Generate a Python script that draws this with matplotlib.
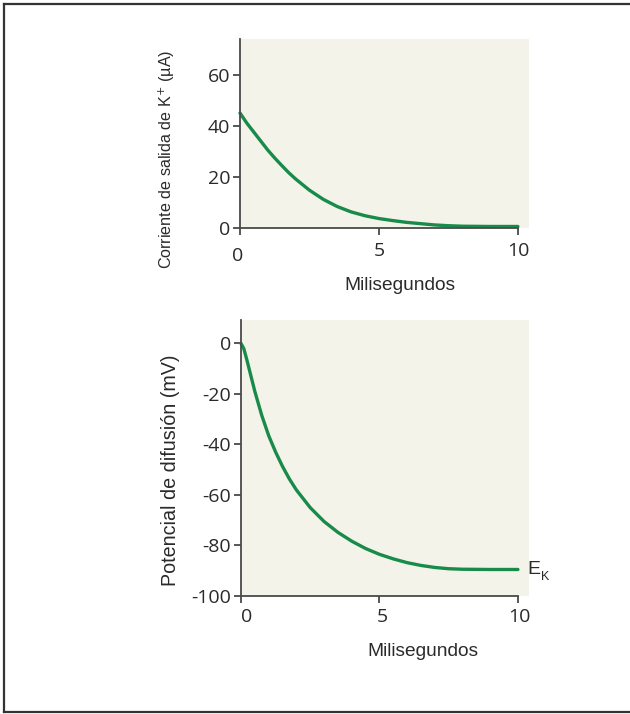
import matplotlib
matplotlib.use("Agg")
import matplotlib.pyplot as plt
from matplotlib.lines import Line2D

# Data
t_top = [0, 0.25, 0.5, 0.75, 1, 1.25, 1.5, 1.75, 2, 2.5, 3, 3.5, 4, 4.5, 5, 5.5, 6,
         6.5, 7, 7.5, 8, 9, 10]
i_top = [45, 41, 37.5, 34, 30.5, 27.4, 24.5, 21.7, 19.2, 14.8, 11.2, 8.4, 6.3, 4.8,
         3.7, 2.9, 2.2, 1.7, 1.2, 0.9, 0.7, 0.6, 0.6]

t_bot = [0, 0.1, 0.2, 0.35, 0.5, 0.75, 1, 1.25, 1.5, 1.75, 2, 2.5, 3, 3.5, 4, 4.5,
         5, 5.5, 6, 6.5, 7, 7.5, 8, 9, 10]
v_bot = [0, -2, -6, -12.5, -19, -28.5, -36.5, -43, -48.7, -53.7, -58, -65, -70.5,
         -74.8, -78.3, -81.2, -83.5, -85.3, -86.8, -87.9, -88.7, -89.2, -89.4,
         -89.5, -89.5]

x_ticks = [0, 5, 10]
top_yticks = [0, 20, 40, 60]
bot_yticks = [0, -20, -40, -60, -80, -100]

GREEN = "#188a4a"
BG = "#f4f3e9"
AX = "#4a4a4a"
TXT = "#2a2a2a"
TICKFONT = "Open Sans"
LABFONT = "Liberation Sans"
TFS = 14

fig = plt.figure(figsize=(6.3, 7.14), dpi=100)
fig.patch.set_facecolor("white")

# outer frame (top, left, bottom)
for (xs, ys) in [((4/630, 1), (1-4/714, 1-4/714)),
                 ((4/630, 4/630), (2/714, 1-4/714)),
                 ((4/630, 1), (2/714, 2/714))]:
    fig.add_artist(Line2D(xs, ys, transform=fig.transFigure, color="#333333", lw=1.6))


def style(ax, ylim, yticks):
    ax.set_facecolor(BG)
    ax.set_xlim(0, 10.4)
    ax.set_ylim(*ylim)
    for s in ["top", "right"]:
        ax.spines[s].set_visible(False)
    for s in ["left", "bottom"]:
        ax.spines[s].set_color(AX)
        ax.spines[s].set_linewidth(1.3)
    ax.spines["bottom"].set_bounds(0, 10)
    ax.set_xticks(x_ticks)
    ax.set_yticks(yticks)
    ax.set_yticklabels([str(v) for v in yticks], fontfamily=TICKFONT, fontsize=TFS, color=TXT)
    ax.tick_params(axis="both", direction="out", length=5, width=1.3, color=AX)
    ax.tick_params(axis="y", pad=2)
    ax.set_xticklabels([])


def xlab(ax, x, y, s):
    ax.text(x, y, s, transform=ax.get_xaxis_transform(), ha="center", va="top",
            fontfamily=TICKFONT, fontsize=TFS, color=TXT)


# Top axes
ax1 = fig.add_axes([240/630, 486/714, 289/630, 189/714])
style(ax1, (0, 74), top_yticks)
ax1.plot(t_top, i_top, color=GREEN, lw=2.4, solid_capstyle="round", clip_on=False)
xlab(ax1, -0.1, -0.1, "0")
xlab(ax1, 5, -0.075, "5")
xlab(ax1, 10, -0.075, "10")
fig.text(167/630, 1-159/714, "Corriente de salida de K$^{+}$ (µA)", rotation=90,
         ha="center", va="center", fontfamily=LABFONT, fontsize=11.6, color=TXT)
fig.text(400/630, 1-285/714, "Milisegundos", ha="center", va="center",
         fontfamily=LABFONT, fontsize=13.8, color=TXT)

# Bottom axes
ax2 = fig.add_axes([241/630, 118/714, 288/630, 276/714])
style(ax2, (-100, 9.3), bot_yticks)
ax2.plot(t_bot, v_bot, color=GREEN, lw=2.4, solid_capstyle="round", clip_on=False)
xlab(ax2, 0.2, -0.045, "0")
xlab(ax2, 5.1, -0.045, "5")
xlab(ax2, 10.05, -0.045, "10")
ax2.text(10.35, v_bot[-1], "E", ha="left", va="center", fontfamily=LABFONT,
         fontsize=14, color=TXT, clip_on=False)
ax2.text(10.82, v_bot[-1] - 2.8, "K", ha="left", va="center", fontfamily=LABFONT,
         fontsize=9, color=TXT, clip_on=False)
fig.text(170/630, 1-470/714, "Potencial de difusión (mV)", rotation=90,
         ha="center", va="center", fontfamily=LABFONT, fontsize=14.2, color=TXT)
fig.text(423/630, 1-652/714, "Milisegundos", ha="center", va="center",
         fontfamily=LABFONT, fontsize=13.8, color=TXT)

fig.savefig("out.png", dpi=100)
